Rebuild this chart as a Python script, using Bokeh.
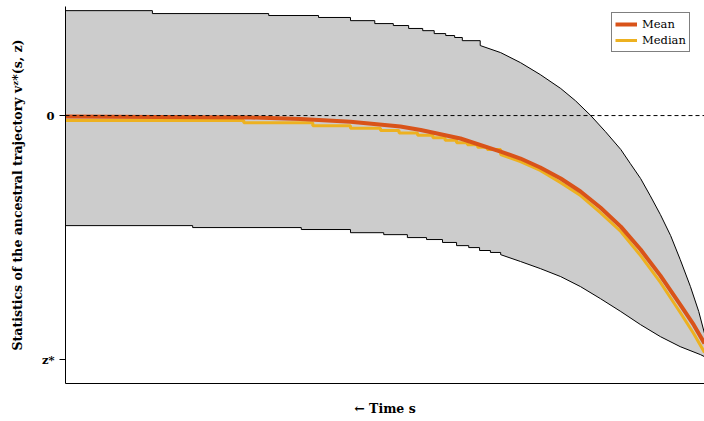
from bokeh.plotting import figure
from bokeh.models import Span, FixedTicker, Legend, LegendItem
from bokeh.embed import file_html
from bokeh.resources import INLINE

# ---- data (time axis 0..100, value axis: 0 = zero level, -1 = z*) ----
upper_step_x = [0, 13.6, 31.8, 39.6, 44.6, 48.4, 51.3, 53.7, 55.9, 57.7, 59.5, 60.9, 62.1, 64.9]
upper_step_y = [0.430, 0.418, 0.410, 0.402, 0.389, 0.377, 0.369, 0.357, 0.348, 0.336, 0.328, 0.320, 0.307, 0.287]
upper_x = [68.1, 71.2, 74.3, 77.5, 79.8, 82.2, 84.5, 86.9, 88.4, 90.0, 91.5, 93.1, 94.7, 96.2, 97.8, 99.1, 100]
upper_y = [0.258, 0.217, 0.168, 0.111, 0.061, 0.0, -0.066, -0.139, -0.197, -0.258, -0.328, -0.406, -0.492, -0.590, -0.701, -0.803, -0.893]

lower_step_x = [0, 19.9, 36.9, 44.6, 49.8, 53.5, 56.5, 59.0, 61.2, 63.1, 64.8, 66.5, 68.1]
lower_step_y = [-0.451, -0.459, -0.467, -0.480, -0.488, -0.500, -0.508, -0.520, -0.533, -0.541, -0.553, -0.561, -0.570]
lower_x = [71.2, 74.3, 77.5, 80.6, 83.7, 86.9, 90.0, 93.1, 96.2, 99.4, 100]
lower_y = [-0.598, -0.627, -0.660, -0.701, -0.750, -0.803, -0.857, -0.906, -0.947, -0.980, -0.988]

mean_x = [0, 29.0, 36.8, 44.6, 52.4, 55.6, 61.8, 68.1, 71.2, 74.3, 77.5, 80.6, 83.7, 86.9, 90.0, 93.1, 96.2, 98.3, 100]
mean_y = [-0.004, -0.008, -0.014, -0.025, -0.045, -0.059, -0.094, -0.148, -0.176, -0.213, -0.258, -0.311, -0.377, -0.455, -0.549, -0.656, -0.775, -0.857, -0.934]

median_step_x = [0, 27.9, 38.7, 44.6, 49.3, 52.2, 55.1, 57.5, 59.4, 61.2, 62.9, 64.5, 66.0, 68.1]
median_step_y = [-0.020, -0.029, -0.042, -0.052, -0.061, -0.071, -0.081, -0.091, -0.101, -0.111, -0.120, -0.130, -0.139, -0.160]
median_x = [71.2, 74.3, 77.5, 80.6, 83.7, 86.9, 90.0, 93.1, 96.2, 98.3, 100]
median_y = [-0.189, -0.225, -0.275, -0.328, -0.398, -0.475, -0.574, -0.684, -0.807, -0.893, -0.971]

y_ticks = [0, -1]
y_tick_labels = ["0", "z*"]
y_title = "Statistics of the ancestral trajectory v\u1DBB*(s, z)"
x_title = "\u2190 Time s"


def stairs(xs, ys, tail_x, tail_y):
    ox, oy = [], []
    for i in range(len(xs)):
        ox.append(xs[i]); oy.append(ys[i])
        if i + 1 < len(xs):
            ox.append(xs[i + 1]); oy.append(ys[i])
    return ox + tail_x, oy + tail_y


ux, uy = stairs(upper_step_x, upper_step_y, upper_x, upper_y)
lx, ly = stairs(lower_step_x, lower_step_y, lower_x, lower_y)
mx, my = stairs(median_step_x, median_step_y, median_x, median_y)

SERIF = "DejaVu Serif"

p = figure(width=704, height=421, output_backend="svg", toolbar_location=None,
           x_range=(0, 100), y_range=(-1.098, 0.447),
           min_border_left=65, min_border_right=0, min_border_top=6, min_border_bottom=38)
p.outline_line_color = None
p.grid.visible = False
p.background_fill_color = "white"

p.patch(ux + lx[::-1], uy + ly[::-1], fill_color="#CCCCCC", line_color=None)
p.line(ux, uy, line_color="black", line_width=1)
p.line(lx, ly, line_color="black", line_width=1)

r_med = p.line(mx, my, line_color="#EDB120", line_width=3)
r_mean = p.line(mean_x, mean_y, line_color="#D95319", line_width=4)

p.add_layout(Span(location=0, dimension="width", line_color="black",
                  line_width=1, line_dash="4 3"))

# axes
p.yaxis.ticker = FixedTicker(ticks=y_ticks)
p.yaxis.major_label_overrides = {t: l for t, l in zip(y_ticks, y_tick_labels)}
p.yaxis.minor_tick_line_color = None
p.yaxis.major_tick_out = 6
p.yaxis.major_tick_in = 0
p.yaxis.major_label_standoff = 5
p.yaxis.major_label_text_font = SERIF
p.yaxis.major_label_text_font_style = "bold"
p.yaxis.major_label_text_font_size = "11.5px"
p.yaxis.major_label_text_color = "black"
p.yaxis.axis_label = y_title
p.yaxis.axis_label_text_font = SERIF
p.yaxis.axis_label_text_font_style = "bold"
p.yaxis.axis_label_text_font_size = "12.5px"
p.yaxis.axis_label_text_color = "black"
p.yaxis.axis_label_standoff = 14

p.xaxis.ticker = FixedTicker(ticks=[])
p.xaxis.minor_tick_line_color = None
p.xaxis.major_label_text_font_size = "0px"
p.xaxis.axis_label = x_title
p.xaxis.axis_label_text_font = SERIF
p.xaxis.axis_label_text_font_style = "bold"
p.xaxis.axis_label_text_font_size = "12.5px"
p.xaxis.axis_label_text_color = "black"
p.xaxis.axis_label_standoff = 17

for ax in (p.xaxis, p.yaxis):
    ax.axis_line_color = "black"
    ax.major_tick_line_color = "black"

legend = Legend(items=[LegendItem(label="Mean", renderers=[r_mean]),
                       LegendItem(label="Median", renderers=[r_med])],
                location=(546, 331))
legend.margin = 0
legend.padding = 3
legend.spacing = 0
legend.label_text_font = SERIF
legend.label_text_font_size = "11.5px"
legend.label_text_color = "black"
legend.label_height = 16
legend.glyph_height = 16
legend.glyph_width = 22
legend.label_standoff = 5
legend.border_line_color = "black"
legend.border_line_width = 1
legend.background_fill_alpha = 1
p.add_layout(legend)

open("out.html", "w").write(file_html(p, INLINE))
